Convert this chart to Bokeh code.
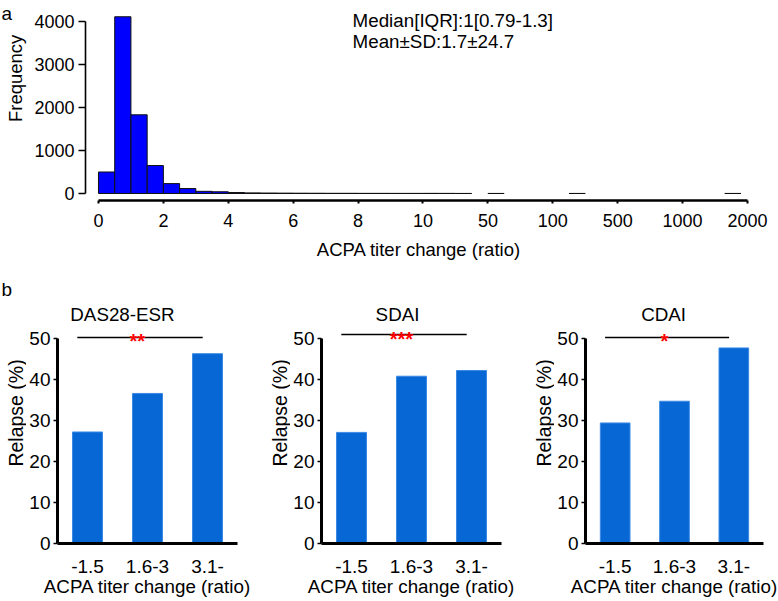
from bokeh.plotting import figure
from bokeh.layouts import column, row
from bokeh.models import Range1d, FixedTicker, ColumnDataSource
from bokeh.core.properties import value
from bokeh.embed import file_html
from bokeh.resources import INLINE
import numpy as np

FONT = "Liberation Sans"

# ---------------- Panel a data (histogram of ACPA titer change ratio) ----------------
bin_left = [0, 0.5, 1, 1.5, 2, 2.5, 3, 3.5, 4, 4.5, 5, 5.5, 6, 6.5, 7, 7.5, 8, 8.5, 9, 9.5,
            10, 20, 30, 50, 200, 1650]
bin_right = [0.5, 1, 1.5, 2, 2.5, 3, 3.5, 4, 4.5, 5, 5.5, 6, 6.5, 7, 7.5, 8, 8.5, 9, 9.5, 10,
             20, 30, 40, 62.5, 300, 1900]
counts = [500, 4110, 1830, 650, 230, 115, 50, 40, 22, 14, 10, 8, 6, 5, 4, 4, 3, 3, 2, 2,
          3, 2, 1, 1, 1, 1]
x_tick_values = [0, 2, 4, 6, 8, 10, 50, 100, 500, 1000, 2000]
x_tick_labels = ["0", "2", "4", "6", "8", "10", "50", "100", "500", "1000", "2000"]
y_ticks_a = [0, 1000, 2000, 3000, 4000]
stats_lines = ["Median[IQR]:1[0.79-1.3]", "Mean\u00b1SD:1.7\u00b124.7"]

# ---------------- Panel b data (relapse %) ----------------
groups = ["-1.5", "1.6-3", "3.1-"]
panel_titles = ["DAS28-ESR", "SDAI", "CDAI"]
relapse_das28 = [27.2, 36.6, 46.3]
relapse_sdai = [27.1, 40.8, 42.2]
relapse_cdai = [29.4, 34.7, 47.7]
significance = ["**", "***", "*"]
y_ticks_b = [0, 10, 20, 30, 40, 50]

# broken (piecewise) axis: each labelled tick is equally spaced on screen
tick_pos = [2 * i for i in range(len(x_tick_values))]


def to_pos(v):
    return np.interp(np.asarray(v, dtype=float), x_tick_values, tick_pos)


def label_strip(w, h):
    f = figure(width=w, height=h, x_range=Range1d(0, w), y_range=Range1d(0, h),
               x_axis_type=None, y_axis_type=None, output_backend="svg", toolbar_location=None,
               min_border=0, min_border_left=0, min_border_right=0, min_border_top=0,
               min_border_bottom=0)
    f.outline_line_color = None
    f.grid.visible = False
    return f


def style_axis(ax, tick_size, label_size):
    ax.minor_tick_line_color = None
    ax.major_label_text_font = FONT
    ax.major_label_text_font_size = tick_size
    ax.major_label_text_color = "black"
    ax.axis_label_text_font = FONT
    ax.axis_label_text_font_size = label_size
    ax.axis_label_text_font_style = "normal"
    ax.axis_label_text_color = "black"
    ax.axis_line_color = "black"
    ax.major_tick_line_color = "black"
    ax.major_tick_in = 0


# ---------------- Panel a ----------------
lab_a = label_strip(30, 262)
lab_a.text(x=[1], y=[245], text=["a"], text_font=value(FONT), text_font_size="19px",
           text_align="left", text_baseline="alphabetic", text_color="black")
lab_a.text(x=[14.5], y=[160], text=["Frequency"], angle=np.pi / 2, text_font=value(FONT),
           text_font_size="18.5px", text_align="center", text_baseline="middle", text_color="black")

pa = figure(width=748, height=262, x_range=Range1d(-0.40, 20.154), y_range=Range1d(-163, 4488),
            output_backend="svg", toolbar_location=None,
            min_border_left=55, min_border_right=26, min_border_top=0, min_border_bottom=62)
pa.outline_line_color = None
pa.grid.visible = False

src_a = ColumnDataSource(dict(left=to_pos(bin_left), right=to_pos(bin_right),
                              top=counts, bottom=[0] * len(counts)))
pa.quad(left="left", right="right", top="top", bottom="bottom", source=src_a,
        fill_color="#0000ff", line_color="#111111", line_width=1)

pa.xaxis.ticker = FixedTicker(ticks=tick_pos)
pa.xaxis.major_label_overrides = {p: l for p, l in zip(tick_pos, x_tick_labels)}
pa.xaxis.bounds = (0, tick_pos[-1])
pa.yaxis.ticker = FixedTicker(ticks=y_ticks_a)
pa.yaxis.bounds = (0, 4000)
style_axis(pa.xaxis[0], "18px", "18.5px")
style_axis(pa.yaxis[0], "18px", "18.5px")
pa.xaxis.axis_line_width = 2.5
pa.xaxis.major_tick_line_width = 2
pa.xaxis.major_tick_out = 3
pa.xaxis.major_label_standoff = 10
pa.xaxis.axis_label = "ACPA titer change (ratio)"
pa.xaxis.axis_label_standoff = 9
pa.yaxis.axis_line_width = 1.6
pa.yaxis.major_tick_line_width = 1.6
pa.yaxis.major_tick_out = 7
pa.yaxis.major_label_standoff = 4

pa.text(x=[7.83, 7.83], y=[4023, 3535], text=stats_lines, text_font=value(FONT),
        text_font_size="18.8px", text_align="left", text_baseline="alphabetic", text_color="black")

# ---------------- Panel b ----------------
values_b = [relapse_das28, relapse_sdai, relapse_cdai]
fig_widths = [238, 238, 224]
lab_widths = [26, 26, 26]
left_b = [31, 31, 29]
right_b = [27, 27, 15]
title_x = [1.083, 1.267, 1.317]
line_y = [50.24, 50.98, 50.24]
star_y = [49.3, 50.0, 49.3]
star_x = [1.33, 1.33, 1.33]
ylab_x = [15, 15.5, 15.5]
bar_x = [0.5, 1.5, 2.5]

children_b = []
for i in range(3):
    lab = label_strip(lab_widths[i], 339)
    if i == 0:
        lab.text(x=[1], y=[306], text=["b"], text_font=value(FONT), text_font_size="19px",
                 text_align="left", text_baseline="alphabetic", text_color="black")
    lab.text(x=[ylab_x[i]], y=[157.5], text=["Relapse (%)"], angle=np.pi / 2,
             text_font=value(FONT), text_font_size="19.5px", text_align="center",
             text_baseline="middle", text_color="black")

    p = figure(width=fig_widths[i], height=339, x_range=Range1d(0, 3), y_range=Range1d(0, 68.54),
               output_backend="svg", toolbar_location=None,
               min_border_left=left_b[i], min_border_right=right_b[i],
               min_border_top=0, min_border_bottom=58)
    p.outline_line_color = None
    p.grid.visible = False
    src = ColumnDataSource(dict(x=bar_x, top=values_b[i]))
    p.vbar(x="x", top="top", width=0.5, source=src, fill_color="#0767d5",
           line_color="#3a8ae4", line_width=1)
    p.xaxis.ticker = FixedTicker(ticks=bar_x)
    p.xaxis.major_label_overrides = {x: g for x, g in zip(bar_x, groups)}
    p.yaxis.ticker = FixedTicker(ticks=y_ticks_b)
    p.yaxis.bounds = (0, 50)
    style_axis(p.xaxis[0], "19px", "18.8px")
    style_axis(p.yaxis[0], "19px", "18.8px")
    for ax in (p.xaxis[0], p.yaxis[0]):
        ax.axis_line_width = 3
        ax.major_tick_line_width = 1.5
    p.xaxis.major_tick_out = 0
    p.xaxis.major_label_standoff = 16
    p.xaxis.axis_label = "ACPA titer change (ratio)"
    p.xaxis.axis_label_standoff = 0
    p.yaxis.major_tick_out = 4
    p.yaxis.major_label_standoff = 3
    # significance bracket
    p.segment(x0=[0.33], y0=[line_y[i]], x1=[2.42], y1=[line_y[i]], line_color="black",
              line_width=1.6)
    p.text(x=[star_x[i]], y=[star_y[i]], text=[significance[i]], text_font=value(FONT),
           text_font_size="20px", text_font_style="bold", text_align="center",
           text_baseline="alphabetic", text_color="#ff0000")
    # subplot title
    p.text(x=[title_x[i]], y=[55.8], text=[panel_titles[i]], text_font=value(FONT),
           text_font_size="18.8px", text_align="center", text_baseline="alphabetic",
           text_color="black")
    children_b.extend([lab, p])

layout = column(row(lab_a, pa, spacing=0), row(*children_b, spacing=0), spacing=0)

open("out.html", "w").write(file_html(layout, INLINE))
